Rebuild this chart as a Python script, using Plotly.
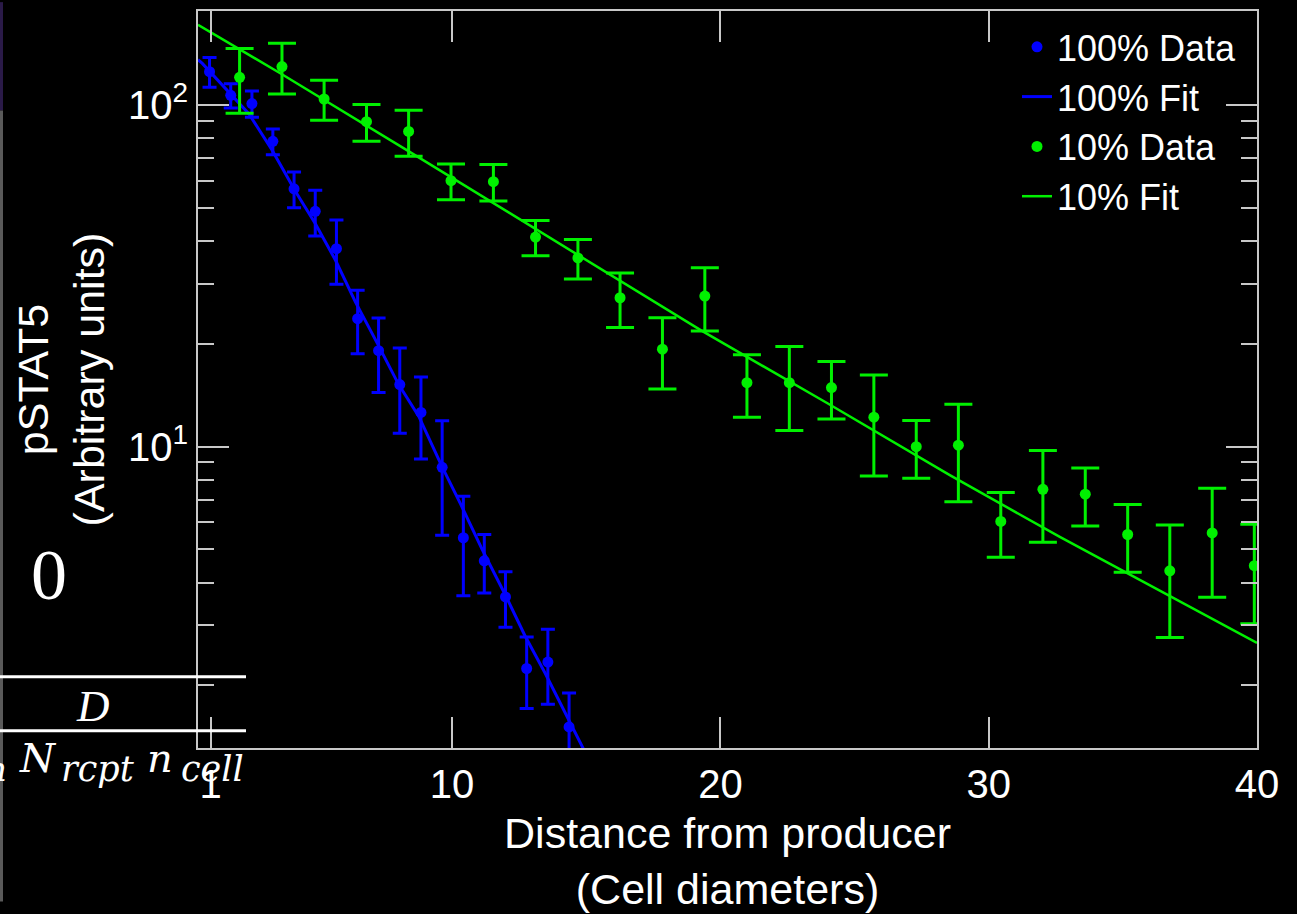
import plotly.graph_objects as go

# ---------------- data ----------------
blue_x = [0.96, 1.75, 2.54, 3.32, 4.11, 4.90, 5.69, 6.48, 7.26, 8.05, 8.84, 9.63,
          10.42, 11.20, 11.99, 12.78, 13.57, 14.36]
blue_y = [125.4, 106.9, 101.1, 78.4, 56.9, 48.9, 38.0, 23.7, 19.1, 15.2, 12.6, 8.70,
          5.41, 4.63, 3.63, 2.24, 2.34, 1.51]
blue_err = [12.5, 8.7, 8.9, 6.8, 6.8, 7.5, 8.1, 5.0, 4.7, 4.25, 3.4, 3.2,
            1.75, 0.9, 0.67, 0.53, 0.58, 0.39]

green_x = [2.08, 3.66, 5.23, 6.81, 8.38, 9.96, 11.54, 13.11, 14.69, 16.26, 17.84, 19.42,
           20.99, 22.57, 24.14, 25.72, 27.30, 28.87, 30.45, 32.02, 33.60, 35.18, 36.75,
           38.33, 39.90]
green_y = [120.7, 129.8, 104.3, 89.5, 83.8, 60.1, 59.7, 41.1, 35.7, 27.3, 19.3, 27.6,
           15.4, 15.4, 14.9, 12.2, 10.0, 10.1, 6.04, 7.50, 7.26, 5.53, 4.33, 5.59, 4.48]
green_err = [26.0, 22.0, 14.0, 11.0, 12.9, 7.2, 7.3, 4.85, 4.7, 4.95, 4.55, 5.8,
             3.2, 4.25, 2.85, 4.0, 1.92, 3.2, 1.3, 2.25, 1.4, 1.24, 1.57, 1.97, 1.45]

blue_fit_x = [0.53, 0.69, 2.43, 3.30, 4.17, 4.91, 5.66, 6.40, 7.21, 8.01, 8.76, 9.63,
              10.31, 11.12, 11.99, 12.73, 13.47, 14.34, 14.90]
blue_fit_y = [136.0, 132.6, 94.3, 73.7, 55.8, 44.9, 35.1, 26.5, 20.1, 15.2, 12.26, 8.72,
              6.81, 5.00, 3.67, 2.78, 2.17, 1.59, 1.30]

green_fit_x = [0.53, 3.61, 8.45, 14.78, 19.28, 23.99, 28.55, 32.65, 39.78, 40.0]
green_fit_y = [172.0, 123.9, 72.8, 36.1, 21.9, 13.4, 8.25, 5.44, 2.72, 2.66]

x_tick_vals = [1, 10, 20, 30, 40]
x_tick_text = ["1", "10", "20", "30", "40"]
y_tick_vals = [10, 100]
y_tick_text = ["10<sup>1</sup>", "10<sup>2</sup>"]
y_minor_vals = [2, 3, 4, 5, 6, 7, 8, 9, 20, 30, 40, 50, 60, 70, 80, 90]

series_names = ["100% Data", "100% Fit", "10% Data", "10% Fit"]

# ---------------- styling ----------------
BLUE = "#0000ff"
GREEN = "#00f000"
FRAME = "#c8c8c8"
SANS = "Liberation Sans, Arial, sans-serif"
SERIF = "Liberation Serif, Times New Roman, serif"
MATH = "DejaVu Serif, serif"

W, H = 1297, 914
ML, MR, MT, MB = 198, 40, 9, 156
PW, PH = W - ML - MR, H - MT - MB


def px_x(px):
    return (px - ML) / PW


def px_y(py):
    return (H - MB - py) / PH


fig = go.Figure()

fig.add_trace(go.Scatter(
    x=blue_x, y=blue_y, mode="markers", name=series_names[0],
    marker=dict(color=BLUE, size=11, symbol="circle"),
    error_y=dict(type="data", array=blue_err, visible=True, color=BLUE,
                 thickness=3, width=7),
))
fig.add_trace(go.Scatter(
    x=blue_fit_x, y=blue_fit_y, mode="lines", name=series_names[1],
    line=dict(color=BLUE, width=3),
))
fig.add_trace(go.Scatter(
    x=green_x, y=green_y, mode="markers", name=series_names[2],
    marker=dict(color=GREEN, size=11, symbol="circle"),
    error_y=dict(type="data", array=green_err, visible=True, color=GREEN,
                 thickness=3, width=14),
))
fig.add_trace(go.Scatter(
    x=green_fit_x, y=green_fit_y, mode="lines", name=series_names[3],
    line=dict(color=GREEN, width=2.5),
))

axis_common = dict(
    showline=True, linecolor=FRAME, linewidth=2, mirror="ticks",
    ticks="inside", ticklen=31, tickwidth=2, tickcolor=FRAME,
    showgrid=False, zeroline=False,
    tickfont=dict(family=SANS, size=40, color="white"),
)

fig.update_xaxes(
    range=[0.53, 40], tickmode="array", tickvals=x_tick_vals, ticktext=x_tick_text,
    title=dict(text="Distance from producer<br>(Cell diameters)",
               font=dict(family=SANS, size=43, color="white"), standoff=13),
    **axis_common,
)
fig.update_yaxes(
    type="log", range=[0.1174, 2.276], tickmode="array",
    tickvals=y_tick_vals, ticktext=y_tick_text,
    minor=dict(tickmode="array", tickvals=y_minor_vals, ticks="inside", ticklen=16,
               tickwidth=2, tickcolor=FRAME, showgrid=False),
    title=dict(text="pSTAT5<br>(Arbitrary units)",
               font=dict(family=SANS, size=43, color="white"), standoff=10),
    **axis_common,
)

# overlay fragments at the left edge of the screenshot
shapes = [
    dict(type="rect", xref="paper", yref="paper", x0=px_x(0), x1=px_x(3),
         y0=px_y(110), y1=px_y(0), fillcolor="#2a1a48", line=dict(width=0)),
    dict(type="rect", xref="paper", yref="paper", x0=px_x(0), x1=px_x(3),
         y0=px_y(914), y1=px_y(110), fillcolor="#5a5a5a", line=dict(width=0)),
    dict(type="line", xref="paper", yref="paper", x0=px_x(0), x1=px_x(246),
         y0=px_y(685.5), y1=px_y(685.5), line=dict(color="white", width=3)),
    dict(type="line", xref="paper", yref="paper", x0=px_x(0), x1=px_x(246),
         y0=px_y(740.5), y1=px_y(740.5), line=dict(color="white", width=3)),
]


def note(text, cx, cy, size, family, xanchor="center"):
    return dict(text=text, xref="paper", yref="paper", x=px_x(cx), y=px_y(cy),
                xanchor=xanchor, yanchor="middle", showarrow=False,
                font=dict(family=family, size=size, color="white"))


annotations = [
    note("0", 48.5, 582, 72, SERIF),
    note("<i>D</i>", 93, 715, 45, SERIF),
    note("<i>n</i>", 9, 779, 34, MATH, xanchor="right"),
    note("<i>N</i>", 38, 768, 40, MATH),
    note("<i>rcpt</i>", 98, 779, 35, MATH),
    note("<i>n</i>", 160, 768, 40, MATH),
    note("<i>cell</i>", 212, 779, 35, MATH),
]

fig.update_layout(
    width=W, height=H,
    margin=dict(l=ML, r=MR, t=MT, b=MB),
    paper_bgcolor="black", plot_bgcolor="black",
    font=dict(family=SANS, color="white"),
    showlegend=True,
    legend=dict(x=px_x(1017), y=px_y(15), xanchor="left", yanchor="top",
                bgcolor="rgba(0,0,0,0)", borderwidth=0,
                font=dict(family=SANS, size=36, color="white"),
                tracegroupgap=0),
    shapes=shapes,
    annotations=annotations,
)

fig.write_html("out.html", config={"displayModeBar": False},
               post_script="document.body.style.margin='0px';")
